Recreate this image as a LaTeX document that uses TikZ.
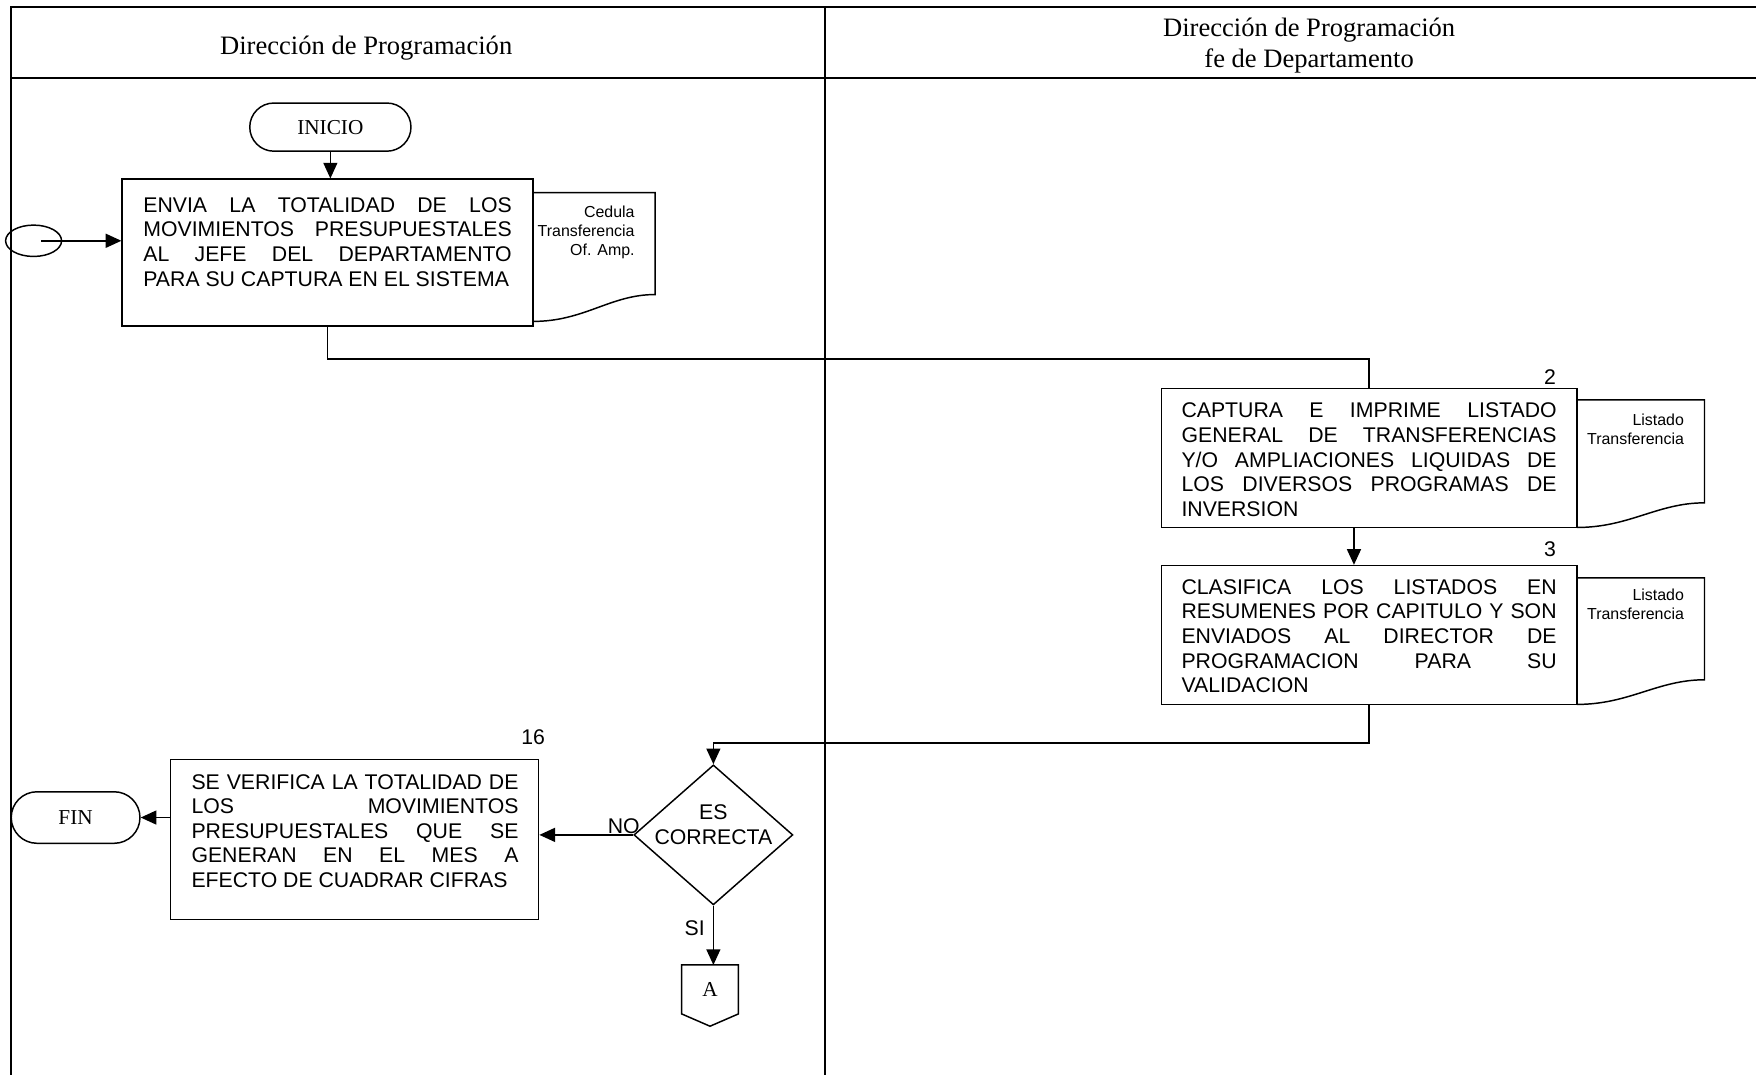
\documentclass[tikz,border=0pt]{standalone}
\usepackage{fontspec}
\setmainfont{Liberation Serif}
\newfontfamily\arialfont{Liberation Sans}
\usetikzlibrary{positioning, shapes.geometric, arrows.meta}

\begin{document}
\begin{tikzpicture}[
    x=0.02cm, y=-0.02cm,
    frame/.style={line width=1pt},
    proc/.style={draw, rectangle, line width=0.75pt, inner sep=0pt},
    proctext/.style={font=\arialfont\fontsize{10.8}{12.5}\selectfont, align=justify, inner sep=0pt},
    doctext/.style={font=\arialfont\fontsize{8.1}{9.7}\selectfont, align=right, inner sep=0pt, anchor=east},
    numtext/.style={font=\arialfont\fontsize{10.8}{12.5}\selectfont, inner sep=0pt},
    term/.style={draw, rectangle, line width=0.75pt, font=\fontsize{10.8}{13}\selectfont},
    head/.style={font=\fontsize{13.5}{15.9}\selectfont, align=center, inner sep=0pt},
    doc/.style={line width=0.75pt},
    line/.style={line width=0.75pt},
    arrow/.style={-{Triangle[length=0.28cm,width=0.25cm]}, line width=0.75pt}
]
\useasboundingbox (0,0) rectangle (1568,960);

% Lanes
\draw[frame] (1568,6) -- (10,6) -- (10,960);
\draw[frame] (10,70) -- (1568,70);
\draw[frame] (737,6) -- (737,960);
\node[head] (lane1) at (327,43) {Dirección de Programación};
\node[head] (lane2) at (1169,41) {Dirección de Programación\\fe de Departamento};

% First lane
\node[term, rounded corners=0.43cm, minimum width=2.88cm, minimum height=0.86cm] (ini) at (295,113.5) {INICIO};
\node[proc, minimum width=7.34cm, minimum height=2.62cm] (b1) at (292.5,225.5) {};
\node[proctext, text width=6.58cm] (t1) at (292.5,216) {ENVIA LA TOTALIDAD DE LOS\linebreak
  MOVIMIENTOS PRESUPUESTALES\linebreak
  AL JEFE DEL DEPARTAMENTO\linebreak
  PARA SU CAPTURA EN EL SISTEMA};
\draw[doc] (476,172) -- (585,172) -- (585,263) .. controls (545,263) and (522,287) .. (476,287);
\node[doctext] (d1) at (567,207.5) {Cedula\\Transferencia\\Of. Amp.};
\node[draw, ellipse, line width=0.75pt, minimum width=1cm, minimum height=0.56cm, inner sep=0pt] (con1) at (30,215) {};

\draw[arrow] (ini.south) -- (ini.south |- b1.north);
\draw[arrow] ([xshift=0.14cm]con1.center) -- (con1.center -| b1.west);

% Second lane
\node[numtext] (n2) at (1384,337) {2};
\node[proc, minimum width=7.42cm, minimum height=2.48cm] (b2) at (1222.5,409) {};
\node[proctext, text width=6.7cm] (t2) at (1222.5,410.5) {CAPTURA E IMPRIME LISTADO\linebreak
  GENERAL DE TRANSFERENCIAS\linebreak
  Y/O AMPLIACIONES LIQUIDAS DE\linebreak
  LOS DIVERSOS PROGRAMAS DE\linebreak
  INVERSION};
\draw[doc] (1408,357) -- (1522,357) -- (1522,449) .. controls (1480,449) and (1455,471) .. (1408,471);
\node[doctext] (d2) at (1504,383) {Listado\\Transferencia};

\node[numtext] (n3) at (1384,490) {3};
\node[proc, minimum width=7.42cm, minimum height=2.48cm] (b3) at (1222.5,567) {};
\node[proctext, text width=6.7cm] (t3) at (1222.5,568) {CLASIFICA LOS LISTADOS EN\linebreak
  RESUMENES POR CAPITULO Y SON\linebreak
  ENVIADOS AL DIRECTOR DE\linebreak
  PROGRAMACION PARA SU\linebreak
  VALIDACION};
\draw[doc] (1408,516) -- (1522,516) -- (1522,607) .. controls (1480,607) and (1455,629) .. (1408,629);
\node[doctext] (d3) at (1504,540) {Listado\\Transferencia};

\draw[line] (b1.south) -- ++(0,29) -| (b2.north);
\draw[arrow] ([xshift=-0.27cm]b2.south) -- ([xshift=-0.27cm]b3.north);

% Check and end
\node[draw, diamond, line width=0.75pt, minimum width=2.84cm, minimum height=2.5cm, inner sep=0pt] (dec) at (637,745.5) {};
\node[numtext, align=center] (dect) at (637,736.5) {ES\\CORRECTA};
\node[numtext] (n16) at (476,658) {16};
\node[proc, minimum width=6.58cm, minimum height=2.86cm] (b16) at (316.5,749.5) {};
\node[proctext, text width=5.84cm] (t16) at (317,742) {SE VERIFICA LA TOTALIDAD DE\linebreak
  LOS MOVIMIENTOS\linebreak
  PRESUPUESTALES QUE SE\linebreak
  GENERAN EN EL MES A\linebreak
  EFECTO DE CUADRAR CIFRAS};
\node[term, rounded corners=0.46cm, minimum width=2.3cm, minimum height=0.92cm] (fin) at (67.5,730) {FIN};
\node[inner sep=0pt, minimum width=1cm, minimum height=0.86cm, font=\fontsize{10.8}{13}\selectfont] (pA) at (634,883.5) {A};
\draw[line] (pA.north west) -- (pA.north east) -- (pA.south east) -- ([yshift=-0.22cm]pA.south) -- (pA.south west) -- cycle;

\draw[arrow] (b3.south) -- ++(0,34) -| (dec.north);
\draw[arrow] (dec.west) -- node[numtext, above=0pt, pos=0.1] (no) {NO} (dec.west -| b16.east);
\draw[arrow] (dec.south) -- node[numtext, left=4pt, pos=0.38] (si) {SI} (dec.south |- pA.north);
\draw[arrow] (b16.west |- fin.east) -- (fin.east);

\end{tikzpicture}
\end{document}
